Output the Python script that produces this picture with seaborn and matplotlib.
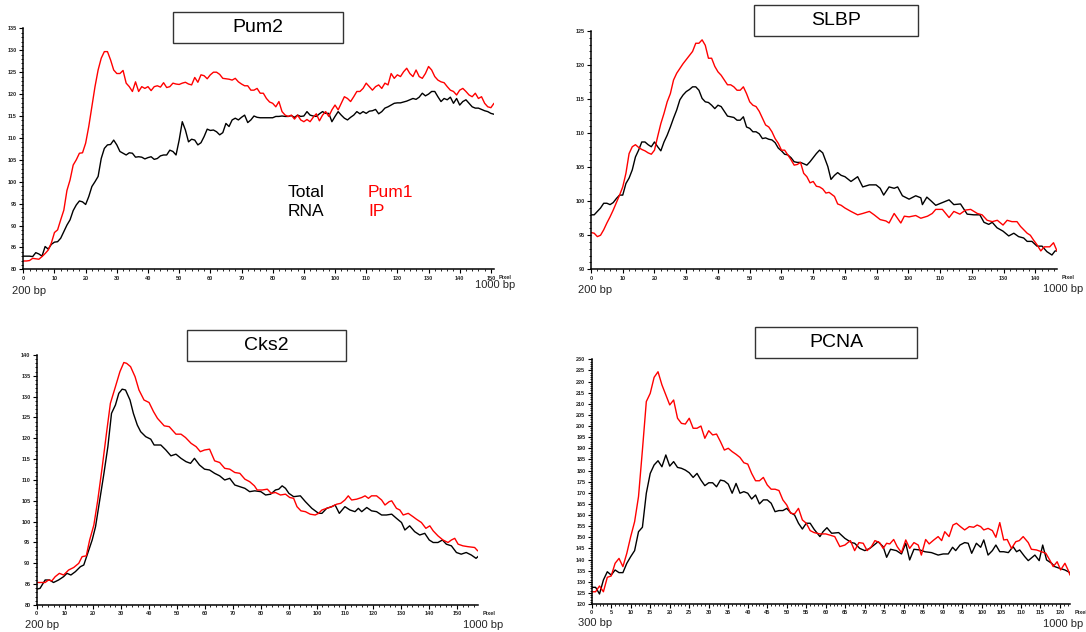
import matplotlib
matplotlib.use("Agg")
import matplotlib.pyplot as plt
from matplotlib.patches import Rectangle
from matplotlib.ticker import MultipleLocator
import seaborn as sns
import pandas as pd

# ---------------- data ----------------
# Pum2 panel (x = pixel)
pum2_x = list(range(0, 152))
pum2_total = [83.0, 83.0, 83.0, 82.9, 83.8, 83.5, 83.0, 85.2, 84.6, 85.7,
              86.2, 86.3, 87.1, 88.6, 90.1, 91.3, 93.4, 94.7, 95.6, 95.4,
              94.8, 96.6, 98.9, 100.0, 101.2, 105.3, 107.6, 108.4, 108.5, 109.5,
              108.4, 106.9, 106.5, 106.1, 106.6, 106.5, 105.6, 105.7, 105.6, 105.2,
              105.5, 105.7, 105.1, 105.3, 105.9, 106.1, 106.1, 107.2, 106.9, 106.1,
              109.5, 113.7, 111.8, 109.1, 109.7, 109.5, 108.4, 108.9, 110.3, 112.0,
              111.7, 111.8, 111.4, 110.7, 111.2, 113.3, 112.6, 114.1, 114.5, 114.1,
              114.7, 115.2, 113.5, 114.1, 115.0, 114.7, 114.6, 114.6, 114.6, 114.6,
              114.6, 114.9, 114.9, 115.0, 114.9, 114.9, 115.1, 114.7, 115.2, 114.9,
              115.0, 116.0, 115.2, 115.0, 114.9, 115.5, 116.0, 115.6, 115.6, 113.7,
              114.9, 116.0, 115.2, 114.5, 114.1, 114.7, 115.2, 116.0, 115.5, 116.0,
              115.6, 116.1, 116.2, 116.5, 115.5, 116.0, 116.8, 117.1, 117.5, 117.9,
              118.0, 118.0, 118.2, 118.4, 118.7, 119.0, 118.8, 119.3, 120.2, 119.6,
              120.0, 120.6, 120.6, 119.4, 118.3, 119.0, 118.7, 119.3, 117.9, 119.0,
              117.5, 118.3, 118.7, 117.9, 117.1, 116.8, 116.8, 116.5, 116.2, 116.0,
              115.6, 115.4]
pum2_ip = [81.9, 81.9, 82.0, 82.5, 82.4, 82.3, 82.9, 83.6, 84.4, 86.0,
           88.4, 89.0, 91.3, 93.5, 98.0, 100.4, 103.8, 105.0, 106.5, 106.6,
           108.8, 112.6, 117.1, 121.7, 125.5, 128.2, 129.7, 129.7, 127.8, 125.5,
           124.7, 124.7, 125.4, 122.5, 121.7, 120.6, 122.8, 120.6, 121.7, 121.3,
           121.7, 120.8, 121.7, 121.9, 121.6, 122.6, 121.5, 121.7, 122.5, 122.3,
           122.2, 122.5, 122.7, 122.3, 122.1, 123.8, 122.7, 124.4, 124.2, 123.5,
           124.4, 125.0, 125.0, 124.5, 123.6, 123.5, 123.4, 123.2, 123.6, 122.8,
           122.3, 121.9, 121.9, 120.9, 120.9, 121.3, 120.2, 120.2, 119.0, 118.2,
           117.9, 117.1, 118.3, 116.0, 115.2, 114.9, 115.2, 114.3, 115.2, 114.1,
           113.7, 114.2, 113.7, 114.7, 115.5, 113.9, 115.2, 116.0, 114.9, 116.4,
           117.5, 116.4, 117.9, 119.4, 119.0, 118.3, 119.4, 120.6, 120.6, 121.3,
           122.5, 121.7, 120.9, 121.7, 122.1, 121.3, 122.5, 122.1, 124.7, 123.6,
           124.4, 124.0, 125.1, 125.9, 124.7, 124.0, 125.5, 124.0, 123.6, 124.7,
           126.3, 125.5, 124.0, 123.2, 122.8, 122.6, 121.7, 120.9, 120.6, 119.8,
           120.9, 121.3, 120.6, 119.8, 119.4, 120.2, 119.0, 119.4, 117.9, 117.1,
           116.9, 117.9]

# SLBP panel
slbp_total_x = [0, 1, 2, 3, 4, 5, 6, 7, 8, 9, 10, 11, 12, 13, 14, 15, 16, 17, 18, 19,
                20, 21, 22, 23, 24, 25, 26, 27, 28, 29, 30, 31, 32, 33, 34, 35, 36, 37, 38, 39,
                40, 41, 42, 43, 44, 45, 46, 47, 48, 49, 50, 51, 52, 53, 54, 55, 56, 57, 58, 59,
                60, 61, 62, 63, 64, 65, 66, 67, 68, 69, 70, 71, 72, 73, 74.6, 75.6, 76.7, 77.7,
                78.8, 80, 81.9, 84, 85.6, 87.7, 89.8, 91.1, 92.2, 93.9, 95.5, 96.6, 98.1, 100.2,
                102.3, 103.9, 104.4, 105.8, 107, 108.6, 110.7, 112.8, 114.3, 116.4, 118.5, 120.6,
                122.5, 123.8, 125.3, 126.4, 127.9, 129.8, 131.6, 133.2, 134.7, 136.3, 137.4,
                138.9, 140.5, 142.1, 143.6, 145.2, 146.2, 146.8]
slbp_total = [98.0, 98.0, 98.5, 99.0, 99.7, 99.7, 99.5, 99.8, 100.4, 100.9, 100.9, 102.6,
              103.4, 104.6, 106.5, 107.5, 108.7, 108.7, 108.3, 108.0, 108.7, 108.0, 107.4,
              108.7, 109.7, 110.9, 112.2, 113.4, 114.9, 115.6, 116.1, 116.4, 116.8, 116.8,
              116.3, 115.1, 114.6, 114.5, 114.1, 113.6, 114.1, 113.9, 113.2, 112.5, 112.4,
              112.3, 111.9, 111.9, 112.4, 110.9, 110.7, 110.2, 110.2, 109.9, 109.2, 109.3,
              109.1, 109.0, 108.6, 107.8, 107.4, 106.9, 106.8, 106.4, 105.8, 105.7, 105.7,
              105.5, 105.3, 105.8, 106.4, 107.0, 107.5, 107.1, 105.1, 103.2, 103.8, 104.2,
              103.8, 103.6, 102.9, 103.6, 102.1, 102.4, 102.4, 101.9, 100.9, 102.1, 101.9,
              102.1, 100.8, 100.3, 100.8, 100.5, 99.5, 100.6, 100.1, 99.4, 99.8, 100.2, 99.5,
              99.6, 98.1, 98.0, 98.0, 96.9, 96.6, 96.9, 96.1, 95.6, 94.9, 95.3, 94.8, 94.6,
              94.1, 94.1, 93.4, 93.4, 92.6, 92.1, 92.7, 92.7]
slbp_ip_x = [0, 1, 2, 3, 4, 5, 6, 7, 8, 9, 10, 11, 12, 13, 14, 15, 16, 17, 18, 19,
             20, 21, 22, 23, 24, 25, 26, 27, 28, 29, 30, 31, 32, 33, 34, 35, 36, 37, 38, 39,
             40, 41, 42, 43, 44, 45, 46, 47, 48, 49, 50, 51, 52, 53, 54, 55, 56, 57, 58, 59,
             60, 61, 62, 63, 64, 65, 66, 67, 68, 69, 70, 71, 72, 73, 74, 75, 76.7, 77.7, 78.8,
             80, 81.9, 84, 85.6, 87.7, 89.2, 91.1, 92.9, 93.9, 95.5, 97.6, 98.7, 100.2, 102.3,
             103.9, 106, 107.5, 108.6, 110.7, 112.8, 114.3, 116.2, 118, 119.6, 121.7, 123.2,
             124.8, 126.4, 128, 129.8, 131.1, 132.6, 134.2, 135.3, 137.4, 138.4, 139.4, 140.5,
             141.7, 142.8, 144.5, 145.7, 146.8]
slbp_ip = [95.4, 95.3, 94.8, 95.0, 95.8, 96.8, 97.7, 98.7, 99.8, 100.9, 102.1, 104.1, 107.0,
           108.0, 108.3, 107.9, 107.6, 107.4, 107.1, 106.9, 107.5, 109.5, 111.4, 112.9, 114.6,
           115.8, 117.8, 118.8, 119.5, 120.2, 120.8, 121.4, 122.0, 123.2, 123.2, 123.7, 122.9,
           121.0, 121.0, 119.8, 119.0, 118.5, 117.8, 117.1, 117.1, 116.8, 116.3, 116.3, 116.8,
           115.8, 114.6, 114.1, 113.9, 113.2, 112.2, 111.2, 110.9, 110.2, 109.2, 108.5, 107.5,
           107.5, 106.8, 106.1, 105.3, 105.4, 105.7, 104.1, 103.6, 102.7, 102.9, 102.2, 102.1,
           101.8, 101.2, 101.3, 100.7, 99.6, 99.4, 99.0, 98.5, 98.0, 98.2, 98.5, 98.0, 97.3,
           97.1, 96.8, 98.2, 96.8, 97.8, 97.7, 97.9, 97.5, 97.8, 98.2, 98.8, 98.8, 97.6, 98.5,
           98.1, 98.7, 98.8, 98.2, 98.0, 97.2, 97.0, 97.2, 96.5, 97.2, 97.0, 97.0, 96.3, 95.3,
           95.0, 94.3, 93.6, 92.7, 93.3, 93.3, 93.9, 92.7]

# Cks2 panel
cks2_total_x = [0, 1.2, 3, 4.6, 6, 7.8, 9.6, 10.8, 12.2, 13.8, 15.6, 16.8, 18.2, 19.8, 21,
                22.5, 24, 25.4, 26.7, 28.1, 29.3, 30.5, 31.7, 33.3, 34.5, 35.9, 37.1, 38.9,
                40.7, 41.9, 44.3, 46.1, 47.9, 49.7, 51.5, 53.3, 54.9, 56.3, 58.1, 59.9, 61.7,
                63.5, 65.3, 67.1, 68.9, 70.7, 72.5, 74.3, 76, 77.8, 80, 81.7, 83.5, 85.2, 86.4,
                87.6, 88.8, 90, 91.7, 94.1, 95.9, 98.2, 100.6, 101.8, 103.5, 105.3, 106.5, 108,
                110, 111.8, 113.6, 114.8, 116, 117.8, 119.5, 121.3, 123.1, 124.8, 126.7, 128.4,
                130.2, 131.4, 133.1, 134.9, 136.7, 138.5, 140.1, 141.5, 143.2, 144.8, 146.2, 148,
                149.8, 151.5, 153.3, 155.1, 156.8, 157.8]
cks2_total = [83.8, 84.0, 86.0, 86.0, 85.4, 86.0, 86.8, 87.6, 87.2, 88.0, 89.2, 89.6, 92.4,
              95.6, 98.8, 105.2, 111.6, 118.0, 126.0, 128.0, 130.8, 131.8, 131.6, 129.2, 126.0,
              123.2, 121.6, 120.4, 119.8, 118.4, 118.4, 117.2, 115.8, 116.2, 115.2, 114.4,
              114.0, 115.2, 113.6, 112.6, 112.4, 111.6, 111.0, 110.0, 110.4, 108.8, 108.4,
              108.0, 107.2, 107.4, 107.2, 106.4, 106.6, 107.6, 107.8, 108.6, 108.0, 106.8,
              106.0, 106.2, 104.8, 103.2, 102.0, 102.0, 103.2, 103.6, 104.0, 102.0, 103.6,
              102.8, 102.4, 103.2, 102.4, 103.4, 102.6, 102.4, 101.6, 101.6, 101.8, 100.8,
              99.8, 98.0, 99.0, 97.6, 96.8, 97.2, 95.6, 95.0, 95.0, 95.6, 94.6, 94.2, 92.6,
              92.2, 92.6, 92.0, 91.2, 91.8]
cks2_ip_x = [0, 3, 4.2, 5.4, 6.6, 8.1, 9.6, 11.4, 13.2, 15, 16.2, 17.7, 18.9, 20.4, 21.8,
             23.4, 24.9, 26.3, 28.1, 29.7, 31.1, 32.1, 33.5, 35.1, 36.5, 38.3, 40.1, 41.7, 43.1,
             45.5, 47.3, 49.7, 51.5, 53.1, 55.1, 56.9, 58.4, 59.9, 61.7, 63.5, 65.3, 67.1, 68.9,
             70.7, 72.5, 74.3, 76, 77.7, 78.7, 80.5, 82.3, 83.7, 85.2, 87, 88.8, 90.3, 91.7,
             92.9, 94.3, 95.9, 97.6, 99.4, 100.6, 101.8, 103.5, 105.3, 107.1, 108.5, 110, 111.2,
             112.4, 114.2, 116, 117.2, 118.4, 119.5, 121.3, 123.1, 124.3, 125.8, 126.7, 128.4,
             129.6, 130.8, 132.6, 134.3, 135.5, 137.3, 138.9, 140.3, 141.5, 143.2, 145, 146.8,
             148, 149.2, 150.4, 152.1, 153.9, 156.3, 157.4]
cks2_ip = [85.4, 85.4, 86.0, 85.8, 86.8, 87.6, 87.2, 88.4, 89.0, 90.0, 91.6, 91.8, 95.6, 99.2,
           105.2, 113.2, 121.2, 128.4, 132.4, 136.0, 138.2, 138.0, 137.2, 134.8, 131.6, 129.2,
           128.6, 126.4, 124.8, 123.0, 122.8, 121.0, 121.0, 120.2, 118.8, 118.0, 116.8, 117.2,
           117.4, 114.6, 114.2, 112.8, 112.6, 111.8, 111.6, 110.2, 109.6, 108.6, 107.6, 107.6,
           107.8, 106.8, 107.0, 106.4, 106.6, 105.8, 105.6, 103.6, 102.6, 102.4, 101.8, 101.6,
           102.0, 102.8, 103.2, 103.6, 104.2, 104.4, 105.2, 106.2, 105.2, 105.4, 105.8, 106.2,
           105.6, 106.2, 106.2, 105.2, 104.0, 104.8, 105.0, 103.2, 102.8, 101.6, 102.0, 101.2,
           100.6, 99.8, 98.4, 99.0, 97.8, 96.6, 95.6, 95.0, 95.6, 96.0, 94.6, 94.2, 94.0, 93.8,
           93.0]

# PCNA panel
pcna_total_x = [0, 1, 2, 3, 4, 5, 6, 7, 8, 9, 10, 11, 12, 13, 14, 15, 16, 17, 18, 19,
                20, 21, 22, 23, 24, 25, 26, 27, 28, 29, 30, 31, 32, 33, 34, 35, 36, 37, 38, 39,
                40, 41, 42, 43, 44, 45, 46, 47, 48, 49, 50, 51, 52, 53, 54, 55, 56, 57, 58.5,
                59.3, 60.3, 61.5, 63.3, 64.9, 66.6, 67.4, 68.7, 70, 71.3, 73.4, 74.7, 75.6, 76.6,
                78.1, 79.4, 80.5, 81.5, 82.6, 84.1, 85.4, 87.1, 88.8, 90.1, 91.4, 92.5, 93.3,
                94.4, 95.6, 96.5, 97.4, 98.6, 99.7, 100.5, 101.6, 102.7, 103.6, 104.6, 105.6,
                106.8, 108, 108.9, 109.7, 111, 111.9, 113.6, 114.7, 115.6, 116.6, 117.9, 118.7,
                120, 121.3, 122.6]
pcna_total = [127.5, 127.5, 124.5, 130.8, 134.5, 133.0, 135.3, 134.1, 134.1, 138.3, 141.3,
              144.0, 152.5, 154.5, 169.8, 178.7, 182.5, 184.4, 181.7, 187.0, 182.0, 184.0,
              181.4, 181.0, 180.2, 179.0, 176.9, 178.7, 175.7, 173.2, 174.5, 174.5, 172.7,
              175.7, 175.3, 173.9, 169.8, 174.2, 169.8, 170.5, 169.8, 167.2, 169.0, 165.0,
              166.8, 166.8, 165.3, 161.5, 162.0, 162.0, 163.0, 161.0, 160.0, 156.3, 153.7,
              156.3, 156.3, 153.6, 150.3, 152.5, 154.3, 151.8, 152.1, 149.5, 147.6, 147.3,
              145.0, 144.0, 145.0, 148.0, 145.8, 141.0, 144.6, 144.0, 142.5, 147.3, 139.8,
              144.6, 144.3, 143.5, 143.1, 142.0, 142.5, 142.5, 145.5, 144.0, 146.5, 147.6,
              147.3, 142.8, 147.3, 145.5, 148.8, 142.0, 144.0, 146.5, 143.5, 143.5, 143.1,
              145.8, 143.5, 144.3, 141.3, 139.5, 142.0, 139.5, 146.5, 139.8, 138.3, 136.8,
              136.0, 135.3, 134.1]
pcna_ip_x = [0, 1, 2, 3, 4, 5, 6, 7, 8, 9, 10, 11, 12, 13, 14, 15, 16, 17, 18, 19,
             20, 21, 22, 23, 24, 25, 26, 27, 28, 29, 30, 31, 32, 33, 34, 35, 36, 37, 38, 39,
             40, 41, 42, 43, 44, 45, 46, 47, 48, 49, 50, 51, 52, 53, 54, 55, 56, 57, 58.5,
             60, 61, 62.3, 63.6, 64.9, 66.3, 67.4, 68.5, 69.6, 70.6, 71.7, 72.6, 73.8, 74.7,
             75.6, 76.4, 77.4, 78.3, 79.4, 80.5, 81.5, 82.6, 83.7, 84.5, 85.6, 86.5, 87.7, 88.8,
             89.7, 90.5, 91.6, 92.6, 93.5, 94.5, 95.6, 96.8, 97.9, 98.8, 99.7, 100.5, 101.6,
             102.7, 103.6, 104.6, 105.6, 106.5, 107.6, 108.7, 109.6, 110.6, 111.9, 112.7, 114,
             115.3, 116.4, 117.4, 118.3, 119.3, 120.2, 121.3, 122.1, 122.6]
pcna_ip = [125.5, 125.5, 128.1, 125.5, 132.0, 132.6, 138.3, 140.5, 136.8, 142.8, 150.3, 157.0,
           168.3, 189.2, 211.0, 214.7, 221.9, 224.4, 218.5, 214.0, 209.5, 211.7, 203.5, 201.2,
           200.9, 203.5, 199.0, 199.0, 200.0, 194.5, 197.9, 196.0, 196.4, 193.0, 189.2, 190.0,
           188.5, 187.3, 185.9, 183.5, 182.9, 178.7, 175.4, 175.4, 176.9, 173.5, 171.6, 171.6,
           171.0, 166.8, 164.5, 160.8, 160.5, 163.0, 157.8, 156.3, 153.0, 152.1, 151.5, 151.5,
           151.0, 150.3, 145.8, 146.5, 148.5, 144.0, 147.6, 147.3, 144.0, 145.8, 148.5, 147.6,
           145.0, 147.3, 147.0, 149.0, 145.8, 143.1, 148.8, 145.0, 147.6, 146.5, 142.0, 149.0,
           147.0, 148.8, 150.3, 148.5, 152.5, 150.3, 155.5, 156.3, 154.8, 153.3, 154.8, 154.5,
           155.5, 154.8, 153.3, 154.0, 153.0, 150.0, 156.6, 148.8, 149.0, 145.0, 148.0, 148.5,
           150.3, 147.6, 144.6, 144.3, 143.5, 142.8, 139.8, 136.8, 139.0, 135.3, 138.3, 135.3,
           133.0]

titles = ["Pum2", "SLBP", "Cks2", "PCNA"]
start_labels = ["200 bp", "200 bp", "200 bp", "300 bp"]
end_label = "1000 bp"
legend_total = "Total\nRNA"
legend_ip = "Pum1\nIP"

# ---------------- style ----------------
sns.set_theme(style="white")
plt.rcParams["font.family"] = ["Liberation Sans", "DejaVu Sans"]

W, H = 1086, 632
fig = plt.figure(figsize=(W / 100, H / 100), dpi=100)
fig.patch.set_facecolor("white")


def px_axes(left, top, right, bottom):
    return fig.add_axes([left / W, 1 - bottom / H, (right - left) / W, (bottom - top) / H])


panels = [
    dict(box=(23.3, 28.4, 494, 269.3), xlim=(0, 151), ylim=(80, 135), xmaj=10, xmin=2, ymaj=5, ymin=1,
         tx=pum2_x, ty=pum2_total, ix=pum2_x, iy=pum2_ip,
         title_box=(173, 12, 343, 43), start_pos=(12, 291), end_pos=(475, 285)),
    dict(box=(591, 31, 1057, 269.3), xlim=(0, 146.8), ylim=(90, 125), xmaj=10, xmin=2, ymaj=5, ymin=1,
         tx=slbp_total_x, ty=slbp_total, ix=slbp_ip_x, iy=slbp_ip,
         title_box=(754, 5, 918, 36), start_pos=(578, 290), end_pos=(1043, 289)),
    dict(box=(36.7, 355, 478, 605), xlim=(0, 157.5), ylim=(80, 140), xmaj=10, xmin=2, ymaj=5, ymin=1,
         tx=cks2_total_x, ty=cks2_total, ix=cks2_ip_x, iy=cks2_ip,
         title_box=(187, 330, 346, 361), start_pos=(25, 625), end_pos=(463, 625)),
    dict(box=(591.7, 359.3, 1070, 604), xlim=(0, 122.6), ylim=(120, 230), xmaj=5, xmin=1, ymaj=5, ymin=1,
         tx=pcna_total_x, ty=pcna_total, ix=pcna_ip_x, iy=pcna_ip,
         title_box=(755, 327, 917, 358), start_pos=(578, 623), end_pos=(1043, 624)),
]

for i, p in enumerate(panels):
    ax = px_axes(*p["box"])
    ax.set_facecolor("white")
    dt = pd.DataFrame({"x": p["tx"], "y": p["ty"]})
    di = pd.DataFrame({"x": p["ix"], "y": p["iy"]})
    sns.lineplot(data=dt, x="x", y="y", color="black", linewidth=1.0, ax=ax,
                 estimator=None, sort=False)
    sns.lineplot(data=di, x="x", y="y", color="#ff0000", linewidth=1.0, ax=ax,
                 estimator=None, sort=False)
    ax.set_xlim(*p["xlim"])
    ax.set_ylim(*p["ylim"])
    ax.set_xlabel("")
    ax.set_ylabel("")
    for s in ["top", "right"]:
        ax.spines[s].set_visible(False)
    for s in ["left", "bottom"]:
        ax.spines[s].set_color("black")
        ax.spines[s].set_linewidth(1.1)
    ax.xaxis.set_major_locator(MultipleLocator(p["xmaj"]))
    ax.xaxis.set_minor_locator(MultipleLocator(p["xmin"]))
    ax.yaxis.set_major_locator(MultipleLocator(p["ymaj"]))
    ax.yaxis.set_minor_locator(MultipleLocator(p["ymin"]))
    ax.tick_params(which="major", direction="out", length=3, width=0.8, color="black",
                   labelsize=4, pad=1.5, bottom=True, left=True)
    ax.tick_params(which="minor", direction="out", length=1.5, width=0.6, color="black",
                   bottom=True, left=True)
    for lab in ax.get_xticklabels() + ax.get_yticklabels():
        lab.set_fontweight("bold")
    ax.grid(False)
    ax.annotate("Pixel", xy=(1, 0), xycoords="axes fraction", xytext=(3, -6),
                textcoords="offset points", fontsize=4, fontweight="bold", ha="left", va="center")

    # title box
    l, t, r, b = p["title_box"]
    fig.patches.append(Rectangle((l / W, 1 - b / H), (r - l) / W, (b - t) / H,
                                 transform=fig.transFigure, facecolor="white",
                                 edgecolor="#333333", linewidth=1.0, zorder=5))
    fig.text((l + r) / 2 / W, 1 - (t + b) / 2 / H, titles[i], ha="center", va="center",
             fontsize=14, color="black", zorder=6)
    sx, sy = p["start_pos"]
    fig.text(sx / W, 1 - sy / H, start_labels[i], ha="left", va="center", fontsize=8)
    ex, ey = p["end_pos"]
    fig.text(ex / W, 1 - ey / H, end_label, ha="left", va="center", fontsize=8)

# legend words in the first panel
fig.text(288 / W, 1 - 202 / H, legend_total, ha="left", va="center", fontsize=12.5,
         color="black", linespacing=1.35)
fig.text(368 / W, 1 - 202 / H, legend_ip, ha="left", va="center", fontsize=12.5,
         color="#ff0000", linespacing=1.35)

fig.savefig("out.png", dpi=100, facecolor="white")
